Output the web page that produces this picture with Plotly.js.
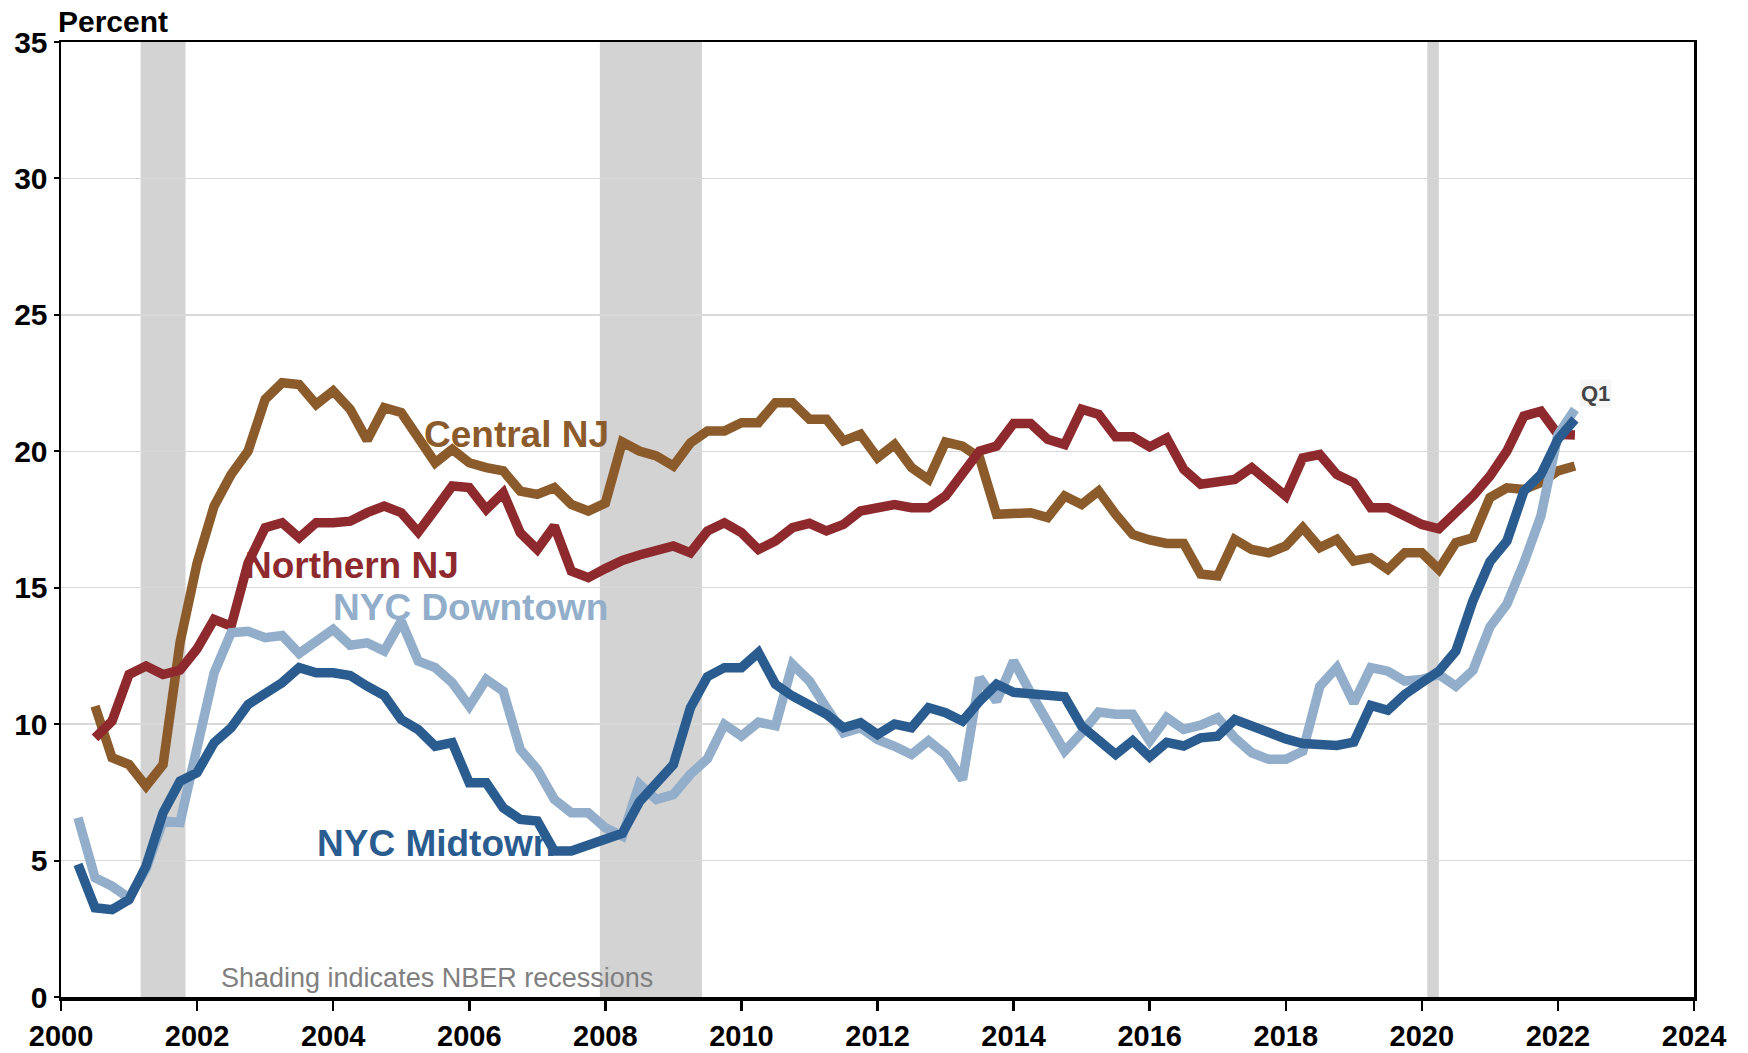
<!DOCTYPE html>
<html>
<head>
<meta charset="utf-8">
<script src="https://cdn.plot.ly/plotly-3.0.1.min.js"></script>
<style>html,body{margin:0;padding:0;background:#fff;}#chart{width:1748px;height:1053px;}</style>
</head>
<body>
<div id="chart"></div>
<script>
// Quarterly office availability rates (percent), plotted at quarter end
const manhattanStart = [2000, 1];   // 2000 Q1
const njStart = [2000, 2];          // 2000 Q2

const nycMidtown = [
  4.86, 3.27, 3.20, 3.57, 4.80, 6.75, 7.91, 8.22, 9.32, 9.87, 10.72, 11.09,
  11.52, 12.07, 11.88, 11.88, 11.78, 11.39, 11.05, 10.17, 9.80, 9.19, 9.32, 7.85,
  7.85, 6.93, 6.51, 6.45, 5.35, 5.35, 5.59, 5.80, 6.00, 7.15, 7.85, 8.52,
  10.60, 11.74, 12.07, 12.07, 12.62, 11.46, 11.03, 10.66, 10.36, 9.87, 10.05, 9.62,
  10.00, 9.87, 10.60, 10.42, 10.11, 10.84, 11.46, 11.17, 11.09, 11.00, 11.00, 9.93,
  9.44, 8.89, 9.39, 8.80, 9.33, 9.20, 9.50, 9.56, 10.17, 9.93, 9.66, 9.46,
  9.29, 9.22, 9.22, 9.34, 10.69, 10.51, 11.09, 11.52, 11.94, 12.68, 14.51, 15.95,
  16.71, 18.54, 19.15, 20.44, 21.17
];
const nycDowntown = [
  6.57, 4.37, 4.06, 3.63, 4.70, 6.45, 6.40, 9.30, 11.88, 13.35, 13.40, 13.17,
  13.25, 12.59, 12.98, 13.47, 12.89, 12.98, 12.68, 13.78, 12.31, 12.07, 11.52, 10.66,
  11.64, 11.21, 9.07, 8.34, 7.24, 6.75, 6.75, 6.20, 5.90, 7.80, 7.24, 7.42,
  8.16, 8.73, 9.99, 9.56, 10.07, 9.94, 12.19, 11.58, 10.60, 9.68, 9.87, 9.44,
  9.19, 8.89, 9.39, 8.89, 7.97, 11.70, 10.84, 12.31, 11.15, 10.03, 9.01, 9.68,
  10.44, 10.36, 10.36, 9.39, 10.24, 9.81, 9.96, 10.23, 9.50, 8.95, 8.71, 8.71,
  9.01, 11.39, 12.07, 10.78, 12.07, 11.94, 11.58, 11.64, 11.82, 11.39, 11.97, 13.56,
  14.40, 15.91, 17.63, 20.60, 21.54
];
const centralNJ = [
  10.66, 8.77, 8.52, 7.73, 8.52, 13.00, 15.90, 17.99, 19.15, 20.01, 21.90,
  22.51, 22.45, 21.72, 22.21, 21.54, 20.41, 21.60, 21.42, 20.44, 19.58, 20.07, 19.58,
  19.40, 19.28, 18.54, 18.42, 18.67, 18.05, 17.81, 18.10, 20.34, 20.01, 19.83, 19.46,
  20.31, 20.74, 20.74, 21.05, 21.05, 21.78, 21.78, 21.17, 21.17, 20.38, 20.62, 19.76,
  20.25, 19.40, 18.97, 20.34, 20.19, 19.76, 17.69, 17.75, 17.75, 17.57, 18.36, 18.05,
  18.54, 17.69, 16.95, 16.75, 16.62, 16.62, 15.50, 15.43, 16.77, 16.40, 16.28, 16.53,
  17.20, 16.47, 16.77, 15.98, 16.10, 15.67, 16.28, 16.28, 15.67, 16.65, 16.83, 18.30,
  18.66, 18.60, 18.85, 19.28, 19.46
];
const northernNJ = [
  9.50, 10.11, 11.82, 12.13, 11.82, 11.98, 12.76, 13.84, 13.59, 15.91, 17.20,
  17.38, 16.83, 17.38, 17.38, 17.44, 17.75, 17.99, 17.75, 17.04, 17.87, 18.73, 18.67,
  17.87, 18.48, 17.01, 16.40, 17.26, 15.61, 15.37, 15.70, 16.00, 16.20, 16.40, 16.53,
  16.28, 17.08, 17.38, 17.02, 16.40, 16.71, 17.20, 17.36, 17.08, 17.32, 17.81, 17.90,
  18.05, 17.93, 17.93, 18.36, 19.21, 20.01, 20.19, 21.02, 21.02, 20.44, 20.25, 21.54,
  21.35, 20.53, 20.53, 20.16, 20.48, 19.34, 18.79, 18.87, 18.97, 19.40, 18.87, 18.36,
  19.76, 19.88, 19.15, 18.85, 17.93, 17.93, 17.63, 17.32, 17.16, 17.75, 18.36, 19.09,
  20.01, 21.29, 21.47, 20.62, 20.60
];

// NBER recessions (decimal years)
const recessionStart = [2001.17, 2007.92, 2020.08];
const recessionEnd   = [2001.83, 2009.42, 2020.25];

const seriesNames  = ['Central NJ', 'Northern NJ', 'NYC Downtown', 'NYC Midtown'];
const seriesColors = ['#8C5B2B', '#8E2A2D', '#93AECA', '#2A5C8F'];
const xTickVals = [2000, 2002, 2004, 2006, 2008, 2010, 2012, 2014, 2016, 2018, 2020, 2022, 2024];

function quarterEnds(start, n) {
  const out = [];
  for (let i = 0; i < n; i++) {
    const q = start[1] + i;
    out.push(start[0] + q / 4);
  }
  return out;
}

const seriesData = [centralNJ, northernNJ, nycDowntown, nycMidtown];
const seriesStarts = [njStart, njStart, manhattanStart, manhattanStart];

const traces = seriesData.map((vals, i) => ({
  type: 'scatter', mode: 'lines', name: seriesNames[i],
  x: quarterEnds(seriesStarts[i], vals.length), y: vals,
  line: {color: seriesColors[i], width: 9.5},
  hoverinfo: 'x+y'
}));

const FONT = 'Liberation Sans, Arial, Helvetica, sans-serif';

const shapes = recessionStart.map((s, i) => ({
  type: 'rect', xref: 'x', yref: 'paper', x0: s, x1: recessionEnd[i], y0: 0, y1: 1,
  fillcolor: '#D3D3D3', line: {width: 0}, layer: 'below'
}));

const labelAnn = (text, x, y, color, size) => ({
  text: '<b>' + text + '</b>', x: x, y: y, xref: 'x', yref: 'y', showarrow: false,
  font: {family: FONT, size: size, color: color}, xanchor: 'center', yanchor: 'middle'
});

const annotations = [
  labelAnn('Central NJ', 2006.70, 20.62, seriesColors[0], 37),
  labelAnn('Northern NJ', 2004.27, 15.81, seriesColors[1], 37),
  labelAnn('NYC Downtown', 2006.02, 14.29, seriesColors[2], 37),
  labelAnn('NYC Midtown', 2005.51, 5.63, seriesColors[3], 37),
  {text: '<b>Q1</b>', x: 2022.55, y: 22.1, xref: 'x', yref: 'y', showarrow: false,
   font: {family: FONT, size: 22, color: '#444444'}, xanchor: 'center', yanchor: 'middle',
   bgcolor: 'rgba(245,245,245,0.9)'},
  {text: 'Shading indicates NBER recessions', x: 2005.53, y: 0.69, xref: 'x', yref: 'y',
   showarrow: false, font: {family: FONT, size: 27, color: '#808080'}, xanchor: 'center', yanchor: 'middle'},
  {text: '<b>Percent</b>', x: 0, y: 1, xref: 'paper', yref: 'paper', xanchor: 'left', yanchor: 'bottom',
   showarrow: false, font: {family: FONT, size: 30, color: '#000'}, xshift: -5, yshift: 2}
];

const layout = {
  width: 1748, height: 1053,
  margin: {l: 61, r: 54, t: 42, b: 56, pad: 0},
  paper_bgcolor: '#fff', plot_bgcolor: '#fff',
  showlegend: false,
  font: {family: FONT, color: '#000'},
  xaxis: {
    range: [2000, 2024], tickvals: xTickVals, ticktext: xTickVals.map(String),
    showgrid: false, zeroline: false,
    showline: true, linecolor: '#000', linewidth: 4, mirror: false,
    ticks: 'outside', ticklen: 10, tickwidth: 2.5, tickcolor: '#000',
    tickfont: {family: FONT, size: 29, color: '#000', weight: 'bold'}
  },
  xaxis2: {overlaying: 'x', side: 'top', range: [2000, 2024], showline: true, linecolor: '#000', linewidth: 2.5, showticklabels: false, ticks: '', showgrid: false, zeroline: false},
  yaxis: {
    range: [0, 35], dtick: 5, tick0: 0,
    showgrid: true, gridcolor: '#D9D9D9', gridwidth: 1.5, zeroline: false,
    showline: true, linecolor: '#000', linewidth: 2.5, mirror: true,
    ticks: 'outside', ticklen: 5, tickwidth: 2, tickcolor: '#000',
    tickfont: {family: FONT, size: 30, color: '#000', weight: 'bold'}
  },
  shapes: shapes,
  annotations: annotations
};

// empty trace on a top-side axis to draw the top frame line
traces.unshift({type: 'scatter', x: [2000], y: [null], xaxis: 'x2', yaxis: 'y', showlegend: false, hoverinfo: 'skip'});

Plotly.newPlot('chart', traces, layout, {displayModeBar: false, staticPlot: true});
</script>
</body>
</html>
